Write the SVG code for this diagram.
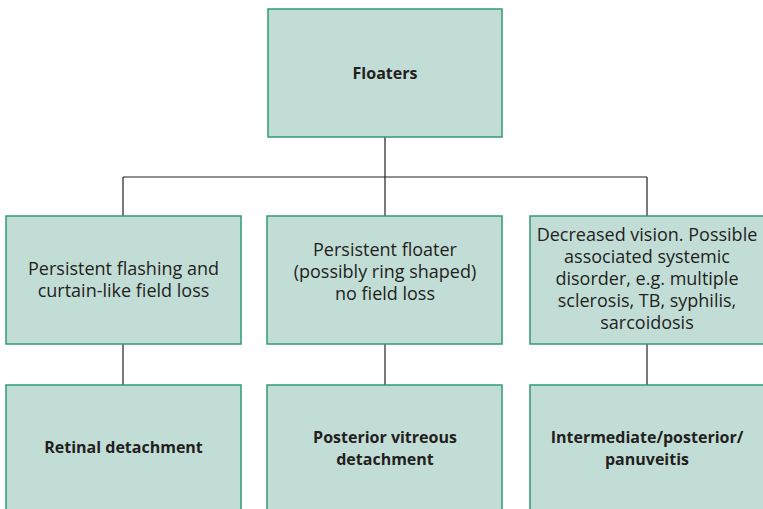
<svg xmlns="http://www.w3.org/2000/svg" width="763" height="509" viewBox="0 0 763 509">
<style>
.box{fill:#c2ddd6;stroke:#2f9a78;stroke-width:1.5}
.t{font-family:"Open Sans","Noto Sans","Liberation Sans",sans-serif;font-size:18px;fill:#231f20;text-anchor:middle}
.b{font-family:"Open Sans","Noto Sans","Liberation Sans",sans-serif;font-size:16px;font-weight:bold;fill:#231f20;text-anchor:middle}
.c{stroke:#231f20;stroke-width:1.2;fill:none}
</style>
<rect width="763" height="509" fill="#ffffff"/>
<g id="connectors">
<path class="c" d="M385 137V177M123 177H647M123 177V216M385 177V216M647 177V216M123 344V385M385 344V385M647 344V385"/>
</g>
<g id="floaters"><rect class="box" x="268" y="9" width="234" height="128"/><text class="b" x="385" y="79">Floaters</text></g>
<g id="flashing"><rect class="box" x="6" y="216" width="235" height="128"/><text class="t" x="123.5" y="275">Persistent flashing and</text><text class="t" x="123.5" y="297">curtain-like field loss</text></g>
<g id="persistent"><rect class="box" x="267" y="216" width="235" height="128"/><text class="t" x="385" y="256">Persistent floater</text><text class="t" x="385" y="278">(possibly ring shaped)</text><text class="t" x="385" y="300">no field loss</text></g>
<g id="decreased"><rect class="box" x="530" y="216" width="240" height="128"/><text class="t" x="647" y="241">Decreased vision. Possible</text><text class="t" x="647" y="263">associated systemic</text><text class="t" x="647" y="285">disorder, e.g. multiple</text><text class="t" x="647" y="307">sclerosis, TB, syphilis,</text><text class="t" x="647" y="329">sarcoidosis</text></g>
<g id="retinal"><rect class="box" x="6" y="385" width="235" height="130"/><text class="b" x="123.5" y="453">Retinal detachment</text></g>
<g id="pvd"><rect class="box" x="267" y="385" width="235" height="130"/><text class="b" x="385" y="443">Posterior vitreous</text><text class="b" x="385" y="465">detachment</text></g>
<g id="uveitis"><rect class="box" x="530" y="385" width="240" height="130"/><text class="b" x="647" y="443">Intermediate/posterior/</text><text class="b" x="647" y="465">panuveitis</text></g>
</svg>
